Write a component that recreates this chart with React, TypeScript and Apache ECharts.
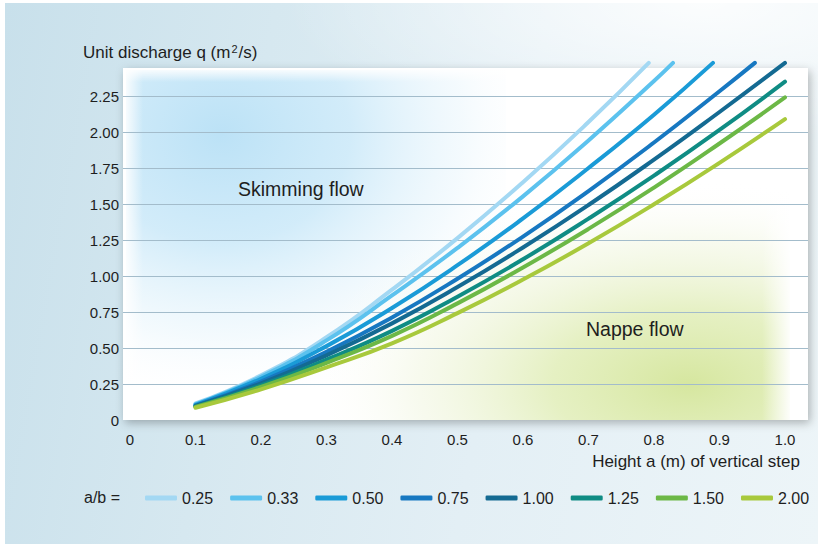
import React, { useEffect, useRef } from "react";
import * as echarts from "echarts";

const ratioLabels = ["0.25", "0.33", "0.50", "0.75", "1.00", "1.25", "1.50", "2.00"];
const lineColors = ["#a3d8f3", "#5cc2ee", "#1a9bd7", "#1778c1", "#146a92", "#0f8c84", "#6cb846", "#a8c93c"];

// Height a (m) and unit discharge q (m2/s)
const a_025 = [0.1, 0.2, 0.3, 0.4, 0.5, 0.6, 0.7, 0.792];
const q_025 = [0.115, 0.31, 0.575, 0.905, 1.263, 1.651, 2.069, 2.48];
const a_033 = [0.1, 0.2, 0.3, 0.4, 0.5, 0.6, 0.7, 0.8, 0.829];
const q_033 = [0.11, 0.3, 0.553, 0.865, 1.195, 1.553, 1.941, 2.354, 2.48];
const a_050 = [0.1, 0.2, 0.3, 0.4, 0.5, 0.6, 0.7, 0.8, 0.89];
const q_050 = [0.105, 0.286, 0.513, 0.778, 1.075, 1.4, 1.75, 2.12, 2.48];
const a_075 = [0.1, 0.2, 0.3, 0.4, 0.5, 0.6, 0.7, 0.8, 0.9, 0.954];
const q_075 = [0.1, 0.267, 0.474, 0.712, 0.981, 1.274, 1.59, 1.927, 2.283, 2.48];
const a_100 = [0.1, 0.2, 0.3, 0.4, 0.5, 0.6, 0.7, 0.8, 0.9, 1.0];
const q_100 = [0.097, 0.255, 0.449, 0.671, 0.923, 1.198, 1.493, 1.808, 2.139, 2.48];
const a_125 = [0.1, 0.2, 0.3, 0.4, 0.5, 0.6, 0.7, 0.8, 0.9, 1.0];
const q_125 = [0.093, 0.24, 0.419, 0.619, 0.856, 1.116, 1.398, 1.697, 2.014, 2.35];
const a_150 = [0.1, 0.2, 0.3, 0.4, 0.5, 0.6, 0.7, 0.8, 0.9, 1.0];
const q_150 = [0.09, 0.23, 0.397, 0.584, 0.81, 1.059, 1.327, 1.614, 1.92, 2.24];
const a_200 = [0.1, 0.2, 0.3, 0.4, 0.5, 0.6, 0.7, 0.8, 0.9, 1.0];
const q_200 = [0.085, 0.213, 0.365, 0.532, 0.742, 0.975, 1.227, 1.498, 1.786, 2.09];

const curveHeights = [a_025, a_033, a_050, a_075, a_100, a_125, a_150, a_200];
const curveDischarges = [q_025, q_033, q_050, q_075, q_100, q_125, q_150, q_200];

const xTickValues = [0, 0.1, 0.2, 0.3, 0.4, 0.5, 0.6, 0.7, 0.8, 0.9, 1.0];
const yTickValues = [0, 0.25, 0.5, 0.75, 1.0, 1.25, 1.5, 1.75, 2.0, 2.25];

const FONT = "'Liberation Sans', Arial, Helvetica, sans-serif";

export default function App() {
  const ref = useRef<HTMLDivElement>(null);

  useEffect(() => {
    if (!ref.current) return;
    const chart = echarts.init(ref.current, null, { renderer: "svg" });

    const series = ratioLabels.map((name, i) => ({
      name,
      type: "line",
      data: curveHeights[i].map((a, k) => [a, curveDischarges[i][k]]),
      smooth: true,
      showSymbol: false,
      symbol: "none",
      clip: false,
      lineStyle: { width: 4, color: lineColors[i], cap: "round", join: "round" },
      itemStyle: { color: lineColors[i] },
      z: 3,
    }));

    chart.setOption({
      animation: false,
      backgroundColor: "transparent",
      textStyle: { fontFamily: FONT },
      grid: { left: 123, right: 10, top: 60, bottom: 124, containLabel: false },
      xAxis: {
        type: "value",
        min: -7 / 655,
        max: 1 + 23 / 655,
        axisLine: { show: false },
        axisTick: { show: false, customValues: xTickValues },
        splitLine: { show: false },
        axisLabel: {
          customValues: xTickValues,
          formatter: (v: number) => (v === 0 ? "0" : v.toFixed(1)),
          color: "#1e1e1e",
          fontSize: 15,
          fontFamily: FONT,
          margin: 12,
        },
      },
      yAxis: {
        type: "value",
        min: 0,
        max: 2.5,
        axisLine: { show: false },
        axisTick: { show: false, customValues: yTickValues.slice(1) },
        splitLine: { show: true, lineStyle: { color: "#a3bccb", width: 1 } },
        axisLabel: {
          customValues: yTickValues,
          formatter: (v: number) => (v === 0 ? "0" : v.toFixed(2)),
          color: "#1e1e1e",
          fontSize: 15,
          fontFamily: FONT,
          margin: 4,
        },
      },
      legend: {
        data: ratioLabels,
        left: 140,
        top: 485,
        width: 700,
        orient: "horizontal",
        icon: "roundRect",
        itemWidth: 32,
        itemHeight: 5,
        itemGap: 17,
        textStyle: { fontSize: 16, color: "#1e1e1e", fontFamily: FONT },
        selectedMode: false,
      },
      graphic: [
        {
          type: "rect",
          z: -20,
          shape: { x: 123, y: 68, width: 685, height: 352 },
          style: {
            fill: "#ffffff",
            shadowBlur: 10,
            shadowColor: "rgba(0,0,0,0.28)",
            shadowOffsetX: 2,
            shadowOffsetY: 3,
          },
        },
        {
          type: "rect",
          z: -19,
          shape: { x: 126, y: 70, width: 380, height: 320 },
          style: {
            fill: new echarts.graphic.RadialGradient(0.25, 0.2, 0.85, [
              { offset: 0, color: "rgba(165,216,243,0.75)" },
              { offset: 0.4, color: "rgba(180,223,246,0.6)" },
              { offset: 0.75, color: "rgba(215,238,250,0.28)" },
              { offset: 1, color: "rgba(255,255,255,0)" },
            ]),
          },
        },
        {
          type: "rect",
          z: -19,
          shape: { x: 330, y: 180, width: 460, height: 240 },
          style: {
            fill: new echarts.graphic.RadialGradient(0.78, 0.85, 0.85, [
              { offset: 0, color: "rgba(198,221,122,0.72)" },
              { offset: 0.35, color: "rgba(208,228,145,0.55)" },
              { offset: 0.7, color: "rgba(228,238,196,0.28)" },
              { offset: 1, color: "rgba(255,255,255,0)" },
            ]),
          },
        },
        {
          type: "rect",
          z: -18,
          shape: { x: 123, y: 68, width: 20, height: 352 },
          style: {
            fill: new echarts.graphic.LinearGradient(0, 0, 1, 0, [
              { offset: 0, color: "rgba(255,255,255,1)" },
              { offset: 1, color: "rgba(255,255,255,0)" },
            ]),
          },
        },
        {
          type: "rect",
          z: -18,
          shape: { x: 123, y: 68, width: 420, height: 14 },
          style: {
            fill: new echarts.graphic.LinearGradient(0, 0, 0, 1, [
              { offset: 0, color: "rgba(255,255,255,1)" },
              { offset: 1, color: "rgba(255,255,255,0)" },
            ]),
          },
        },
        {
          type: "rect",
          z: -18,
          shape: { x: 762, y: 175, width: 30, height: 245 },
          style: {
            fill: new echarts.graphic.LinearGradient(0, 0, 1, 0, [
              { offset: 0, color: "rgba(255,255,255,0)" },
              { offset: 1, color: "rgba(255,255,255,1)" },
            ]),
          },
        },
        {
          type: "text",
          z: 10,
          x: 83,
          y: 52,
          style: {
            text: "Unit discharge q (m{sup|2}/s)",
            fontSize: 17,
            fontFamily: FONT,
            fill: "#1e1e1e",
            verticalAlign: "middle",
            rich: {
              sup: { fontSize: 11, fontFamily: FONT, fill: "#1e1e1e", verticalAlign: "top", padding: [0, 1, 0, 1] },
            },
          },
        },
        {
          type: "text",
          z: 10,
          x: 800,
          y: 461,
          style: {
            text: "Height a (m) of vertical step",
            fontSize: 17,
            fontFamily: FONT,
            fill: "#1e1e1e",
            align: "right",
            verticalAlign: "middle",
          },
        },
        {
          type: "text",
          z: 10,
          x: 238,
          y: 189,
          style: {
            text: "Skimming flow",
            fontSize: 19.5,
            fontFamily: FONT,
            fill: "#1e1e1e",
            verticalAlign: "middle",
          },
        },
        {
          type: "text",
          z: 10,
          x: 586,
          y: 329,
          style: {
            text: "Nappe flow",
            fontSize: 19.5,
            fontFamily: FONT,
            fill: "#1e1e1e",
            verticalAlign: "middle",
          },
        },
        {
          type: "text",
          z: 10,
          x: 84,
          y: 497,
          style: {
            text: "a/b =",
            fontSize: 16,
            fontFamily: FONT,
            fill: "#1e1e1e",
            verticalAlign: "middle",
          },
        },
      ],
      series,
    });

    return () => chart.dispose();
  }, []);

  return (
    <div style={{ position: "fixed", left: 0, top: 0, width: 818, height: 544, background: "#ffffff", overflow: "hidden" }}>
      <div
        style={{
          position: "absolute",
          left: 5,
          top: 3,
          right: 0,
          bottom: 0,
          background:
            "radial-gradient(ellipse 420px 140px at 700px 0px, rgba(255,255,255,0.85), rgba(255,255,255,0)), linear-gradient(100deg, #c8e0eb 0%, #d6e8f0 30%, #e3eff5 60%, #edf5f8 100%)",
        }}
      />
      <div ref={ref} style={{ position: "absolute", left: 0, top: 0, width: 818, height: 544 }} />
    </div>
  );
}
